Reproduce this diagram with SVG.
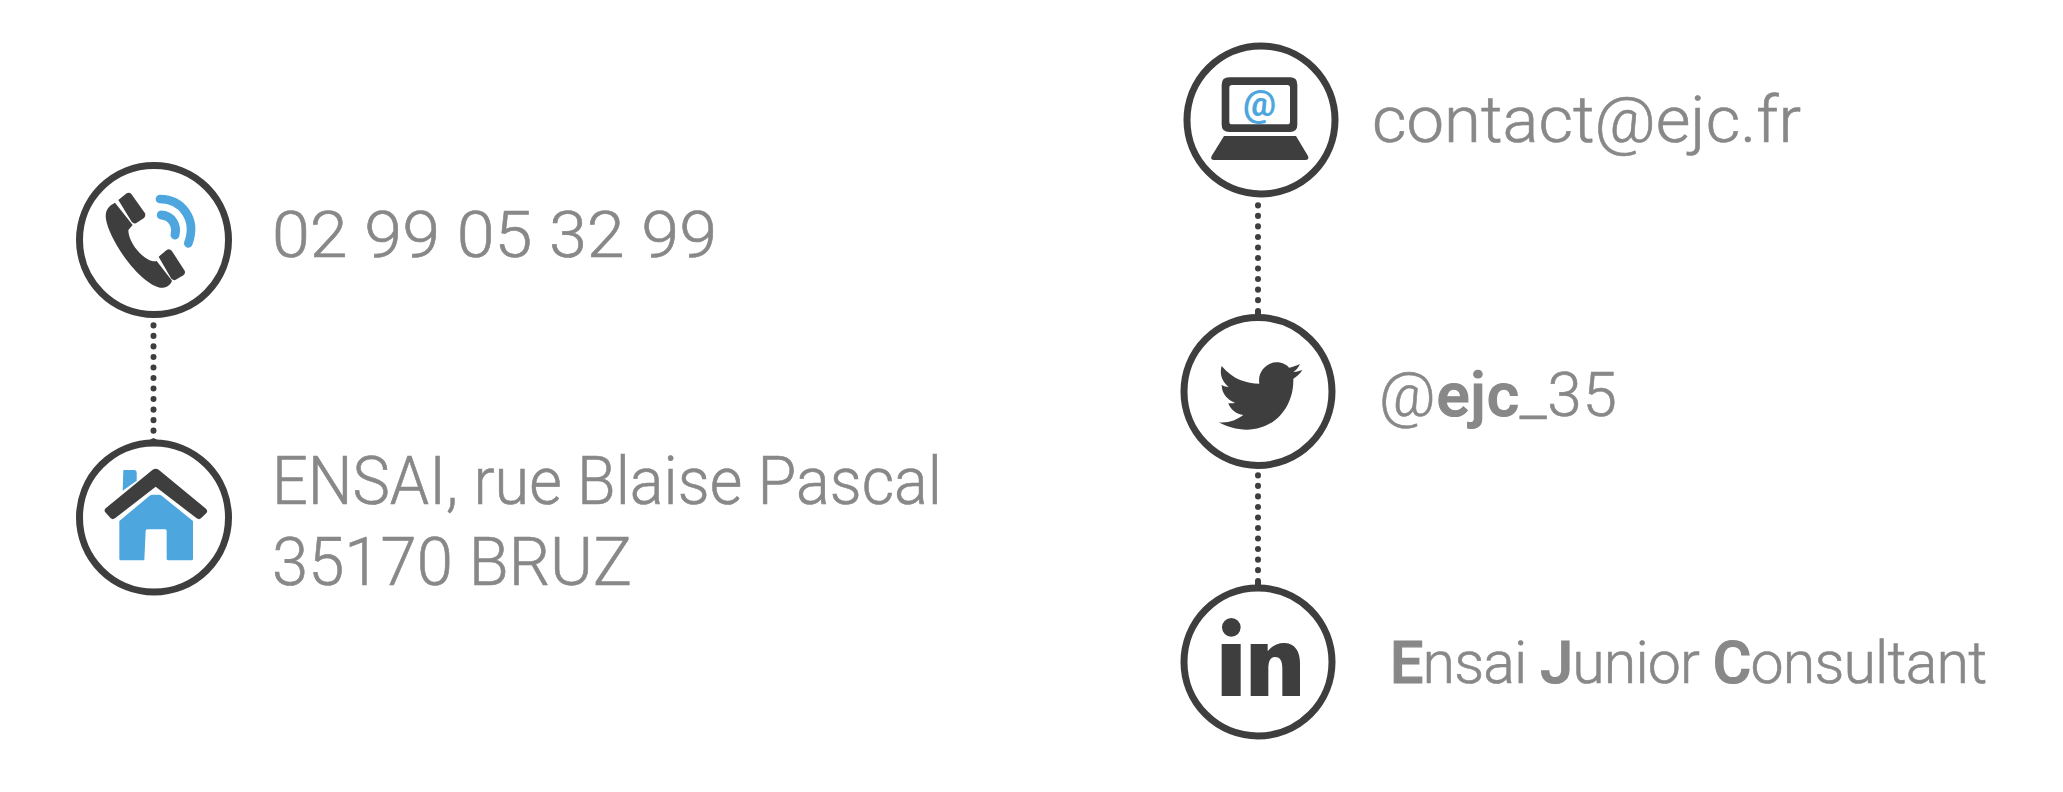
<svg xmlns="http://www.w3.org/2000/svg" width="2063" height="792" viewBox="0 0 2063 792">
<style>
.ring{fill:#fff;stroke:#3e3e3e;stroke-width:7}
.dk{fill:#3e3e3e}
.bl{fill:#4da6de}
.t{font-family:"Roboto","Liberation Sans",sans-serif;font-weight:300;fill:#888888;stroke:#888888;stroke-width:.6}
.b{font-weight:500;stroke-width:1.2}
.conn{fill:none;stroke:#3e3e3e;stroke-width:6;stroke-linecap:round;stroke-dasharray:.1 10.43}
.stub{fill:none;stroke:#3e3e3e;stroke-width:6;stroke-linecap:round}
</style>
<rect width="2063" height="792" fill="#fff"/>
<g id="connectors">
<path class="conn" d="M153.500 325.300V431"/>
<path class="dk" d="M145 442L153.500 438L162 442Z"/>
<path class="conn" d="M1258 205.300V301"/>
<path class="stub" d="M1258 311V316"/>
<path class="conn" d="M1258 475.300V571"/>
<path class="stub" d="M1258 581V586"/>
</g>
<g id="phone">
<circle class="ring" cx="154" cy="240" r="74.500"/>
<g transform="translate(60 150) scale(.33333)">
<path class="dk" d="M165 158C145 168 134 182 138 208C148 270 235 398 300 413C318 415 332 405 336 392L290 333C262 342 205 285 205 240L218 225Z"/>
<path class="dk" d="M175 150L200 130Q208 125 214 132L255 190Q258 198 252 204L228 220Q220 222 215 215Z"/>
<path class="dk" d="M296 320L320 300Q328 294 335 302L374 362Q377 370 370 376L346 390Q338 392 333 385Z"/>
<path d="M300 147C365 148 412 205 385 280" fill="none" stroke="#4da6de" stroke-width="26" stroke-linecap="round"/>
<path d="M304 195C335 197 352 225 345 255" fill="none" stroke="#4da6de" stroke-width="27" stroke-linecap="round"/>
</g>
<text class="t" x="272" y="257" font-size="64" textLength="445" lengthAdjust="spacingAndGlyphs">02 99 05 32 99</text>
</g>
<g id="home">
<circle class="ring" cx="154" cy="517.500" r="74.500"/>
<g transform="translate(60 420) scale(.33333)">
<path class="bl" d="M190 150H222Q230 150 230 158V182L188 212Z"/>
<path class="dk" d="M278 149Q287 143 296 149L438 266Q444 272 440 278L423 295Q417 300 410 295L287 200L165 295Q158 300 152 295L136 277Q131 271 137 265Z"/>
<path class="bl" d="M178 303L268 228Q272 224 278 224H296Q302 224 306 228L399 303V416Q399 421 394 421H325Q320 421 320 416V333Q320 328 315 328H262Q257 328 257 333L253 421H183Q178 421 178 416Z"/>
</g>
<text class="t" x="272" y="504" font-size="66" textLength="670" lengthAdjust="spacingAndGlyphs">ENSAI, rue Blaise Pascal</text>
<text class="t" x="272" y="585" font-size="66" textLength="360" lengthAdjust="spacingAndGlyphs">35170 BRUZ</text>
</g>
<g id="email">
<circle class="ring" cx="1261" cy="120" r="74"/>
<g transform="translate(1170 30) scale(.33333)">
<path class="dk" fill-rule="evenodd" d="M178 142H360Q382 142 382 164V284Q382 306 360 306H178Q155 306 155 284V164Q155 142 178 142ZM186 165Q178 165 178 173V275Q178 283 186 283H352Q360 283 360 275V173Q360 165 352 165Z"/>
<path class="dk" d="M162 318H378L414 378Q418 390 406 390H132Q120 390 125 378Z"/>
</g>
<text x="1259.500" y="116" font-family="Roboto,'Liberation Sans',sans-serif" font-size="37" font-weight="700" fill="#4da6de" text-anchor="middle">@</text>
<text class="t" x="1372" y="142" font-size="64" textLength="429" lengthAdjust="spacingAndGlyphs">contact@ejc.fr</text>
</g>
<g id="twitter">
<circle class="ring" cx="1258" cy="391.500" r="74"/>
<g transform="translate(1170 305) scale(.33333)">
<path class="dk" d="M155 183C190 225 230 235 268 236C262 200 290 172 320 172C338 172 350 180 357 188C365 187 380 182 390 177C385 188 378 196 370 201C380 200 390 197 397 195C390 207 380 215 370 221C372 300 320 373 230 374C200 374 170 365 146 352C175 355 200 345 220 330C200 328 182 315 175 295C180 295 190 295 195 293C172 285 155 265 155 240C160 243 170 246 176 246C155 230 148 205 155 183Z"/>
</g>
<text class="t" x="1379" y="416" font-size="62" letter-spacing=".75">@<tspan class="b">ejc</tspan>_35</text>
</g>
<g id="linkedin">
<circle class="ring" cx="1258" cy="662" r="74"/>
<g transform="translate(1170 575) scale(.33333)">
<circle class="dk" cx="184" cy="157" r="28"/>
<rect class="dk" x="155" y="207" width="57" height="156"/>
<path class="dk" d="M242 207H293V229C305 212 325 203 345 204C375 205 390 230 390 265V363H337V280C337 260 332 246 315 246C300 246 295 262 295 280V363H242Z"/>
</g>
<text class="t" x="1390" y="683" font-size="59" letter-spacing="-.8"><tspan class="b">E</tspan>nsai <tspan class="b">J</tspan>unior <tspan class="b">C</tspan>onsultant</text>
</g>
</svg>
